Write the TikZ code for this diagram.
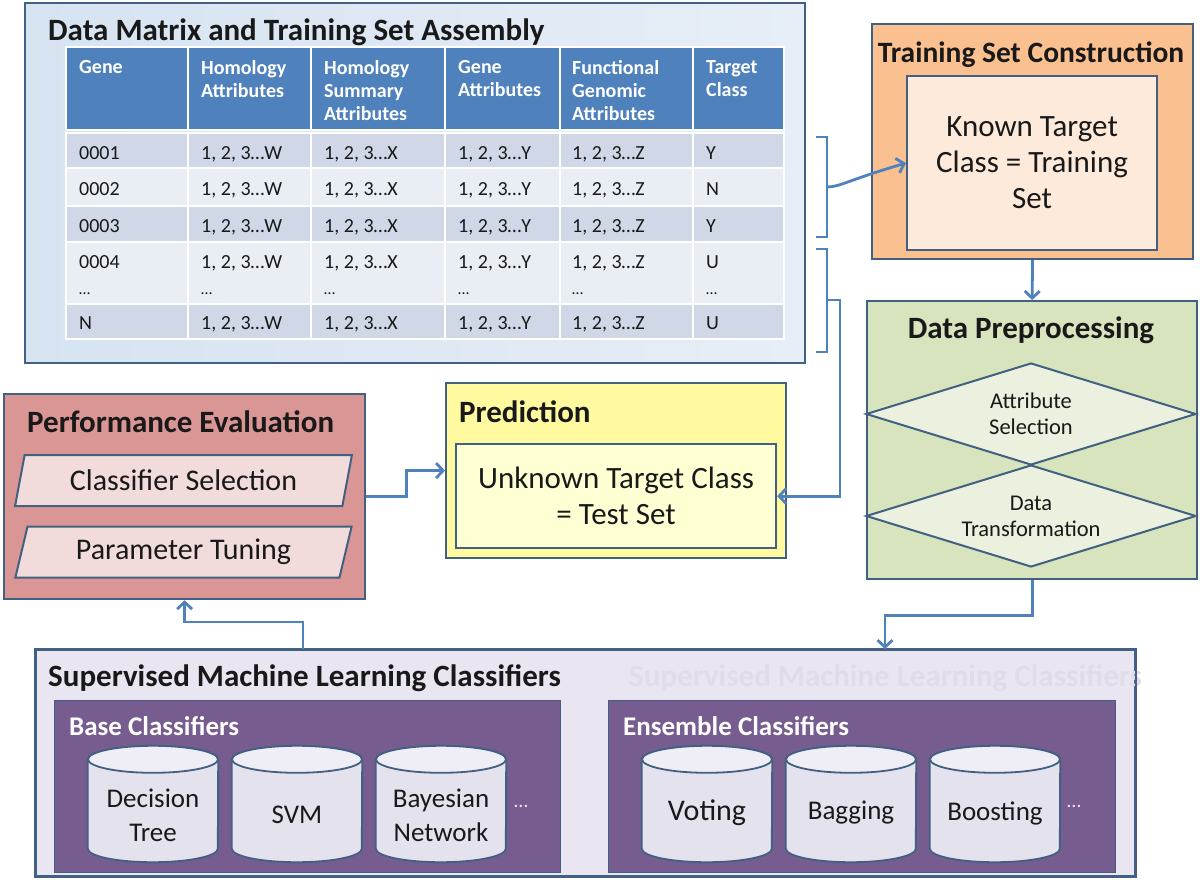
\documentclass[tikz,border=0pt]{standalone}
\usepackage{fontspec}
\setmainfont{Carlito}
\usetikzlibrary{arrows.meta,shapes.geometric}

\definecolor{edgeblue}{RGB}{65,96,130}
\definecolor{flowblue}{RGB}{79,129,189}
\definecolor{headblue}{RGB}{79,129,189}
\definecolor{rowdark}{RGB}{208,216,232}
\definecolor{rowlight}{RGB}{233,237,244}
\definecolor{matrixleft}{RGB}{214,227,241}
\definecolor{matrixright}{RGB}{231,238,247}
\definecolor{orangeout}{RGB}{250,192,144}
\definecolor{orangein}{RGB}{253,234,218}
\definecolor{greenout}{RGB}{215,228,189}
\definecolor{greenin}{RGB}{235,241,222}
\definecolor{yellowout}{RGB}{255,250,160}
\definecolor{yellowin}{RGB}{255,255,212}
\definecolor{redout}{RGB}{218,150,148}
\definecolor{redin}{RGB}{242,220,219}
\definecolor{lavender}{RGB}{234,230,241}
\definecolor{purplebox}{RGB}{118,92,143}
\definecolor{drumfill}{RGB}{228,226,237}
\definecolor{drumtop}{RGB}{239,238,246}
\definecolor{ghost}{RGB}{225,220,234}
\definecolor{ink}{RGB}{25,25,25}

\tikzset{
  panel/.style={draw=edgeblue, line width=2.2pt, anchor=north west, inner sep=0pt},
  boxtitle/.style={font=\fontsize{31}{36}\selectfont\bfseries, text=ink, inner sep=0pt},
  subtitle/.style={anchor=base west, font=\fontsize{27}{32}\selectfont\bfseries, text=white, inner sep=0pt},
  cell/.style={anchor=base west, font=\fontsize{20}{24}\selectfont, text=ink, inner sep=0pt},
  headcell/.style={anchor=north west, align=left, font=\fontsize{20}{23}\selectfont\bfseries, text=white, inner sep=0pt},
  bigtext/.style={align=center, font=\fontsize{31}{36}\selectfont, text=ink},
  flow/.style={draw=flowblue, line width=2.8pt, -{Straight Barb[length=7pt,width=15pt]}},
  brace/.style={draw=flowblue, line width=2.8pt},
  choice/.style={diamond, aspect=3.2, draw=edgeblue, line width=2pt, fill=greenin, minimum width=330pt, minimum height=102pt, inner sep=0pt, align=center, font=\fontsize{22.5}{26}\selectfont, text=ink},
  slanted/.style={trapezium, trapezium left angle=72, trapezium right angle=108, trapezium stretches=true, draw=edgeblue, line width=2pt, fill=redin, minimum width=337pt, minimum height=51pt, inner sep=0pt, font=\fontsize{30}{34}\selectfont, text=ink},
  drum/.style={rectangle, minimum width=130pt, minimum height=116pt, inner sep=0pt},
  drumline/.style={draw=edgeblue, line width=1.8pt, fill=drumfill},
  drumtext/.style={align=center, font=\fontsize{27}{34}\selectfont, text=ink, inner sep=0pt},
  moredots/.style={font=\fontsize{20}{24}\selectfont, text=white!85!purplebox, inner sep=0pt},
}

\begin{document}
\begin{tikzpicture}[x=1pt, y=-1pt]
\useasboundingbox (0,0) rectangle (1200,880);

% Data matrix panel
\node[panel, left color=matrixleft, right color=matrixright, minimum width=780pt, minimum height=360pt] (datamatrix) at (24,2) {};
\node[boxtitle, anchor=base west] (datatitle) at (48,41) {Data Matrix and Training Set Assembly};

% Table cells
\foreach \l/\r in {66/188,188/311,311/445,445/560,560/693,693/784}
  \draw[white, line width=1.5pt, fill=headblue] (\l,47) rectangle (\r,130);
\foreach \t/\b/\c in {133/168/rowdark,168/206/rowlight,206/242/rowdark,242/304/rowlight,304/339/rowdark}
  \foreach \l/\r in {66/188,188/311,311/445,445/560,560/693,693/784}
    \draw[white, line width=1.5pt, fill=\c] (\l,\t) rectangle (\r,\b);

% Table header
\node[headcell] (h-gene) at (79,60) {Gene};
\node[headcell] (h-hom) at (201,60) {Homology\\Attributes};
\node[headcell] (h-sum) at (324,60) {Homology\\Summary\\Attributes};
\node[headcell] (h-attr) at (458,60) {Gene\\Attributes};
\node[headcell] (h-func) at (572,60) {Functional\\Genomic\\Attributes};
\node[headcell] (h-class) at (706,60) {Target\\Class};

% Table rows
\foreach \y/\g/\k in {160/0001/Y,195/0002/N,232/0003/Y,268/0004/U,329/N/U} {
  \node[cell] (g-\g) at (79,\y) {\g};
  \node[cell] (w-\g) at (201,\y) {1, 2, 3…W};
  \node[cell] (x-\g) at (324,\y) {1, 2, 3…X};
  \node[cell] (y-\g) at (458,\y) {1, 2, 3…Y};
  \node[cell] (z-\g) at (572,\y) {1, 2, 3…Z};
  \node[cell] (k-\g) at (706,\y) {\k};
}
\foreach \x in {79,201,324,458,572,706}
  \node[cell, font=\fontsize{16}{20}\selectfont] (dots-\x) at (\x,294) {…};

% Brackets
\coordinate (trainbrace) at (827,187);
\coordinate (testbrace) at (827,300);
\draw[brace] (816,137) -- (827,137) -- (827,237) -- (816,237);
\draw[brace] (816,249) -- (827,249) -- (827,352) -- (816,352);

% Training set construction
\node[panel, fill=orangeout, minimum width=321pt, minimum height=235pt] (trainset) at (871,23) {};
\node[boxtitle, anchor=base, font=\fontsize{29.5}{36}\selectfont\bfseries] (traintitle) at (1031,63) {Training Set Construction};
\node[panel, fill=orangein, minimum width=250pt, minimum height=174pt, bigtext] (known) at (906,75) {Known Target\\Class = Training\\Set};

% Data preprocessing
\node[panel, fill=greenout, minimum width=330pt, minimum height=278pt] (prep) at (866,300) {};
\node[boxtitle, anchor=base] (preptitle) at (1031,338) {Data Preprocessing};
\node[choice] (attrsel) at (1031,414) {Attribute\\Selection};
\node[choice] (transform) at (1031,516) {Data\\Transformation};

% Prediction
\node[panel, fill=yellowout, minimum width=340pt, minimum height=175pt] (predict) at (445,382) {};
\node[boxtitle, anchor=base west] (predtitle) at (459,422) {Prediction};
\node[panel, fill=yellowin, minimum width=320pt, minimum height=104pt, bigtext] (unknown) at (455,443) {Unknown Target Class\\= Test Set};

% Performance evaluation
\node[panel, fill=redout, minimum width=361pt, minimum height=205pt] (perf) at (3,393) {};
\node[boxtitle, anchor=base west] (perftitle) at (27,432) {Performance Evaluation};
\node[slanted] (clsel) at (183.5,480.5) {Classifier Selection};
\node[slanted] (tuning) at (183.5,552) {Parameter Tuning};

% Supervised classifiers
\node[panel, fill=lavender, minimum width=1099pt, minimum height=226pt] (suplearn) at (35,649) {};
\node[boxtitle, anchor=base west, text=ghost] (ghosttitle) at (629,686) {Supervised Machine Learning Classifiers};
\node[boxtitle, anchor=base west] (suptitle) at (48,686) {Supervised Machine Learning Classifiers};

\node[panel, line width=1.2pt, fill=purplebox, minimum width=506pt, minimum height=172pt] (base) at (54,700) {};
\node[subtitle] (basetitle) at (69,735) {Base Classifiers};
\node[panel, line width=1.2pt, fill=purplebox, minimum width=507pt, minimum height=172pt] (ensemble) at (608,700) {};
\node[subtitle] (enstitle) at (623,735) {Ensemble Classifiers};
\draw[edgeblue, line width=2.2pt] (suplearn.north west) rectangle (suplearn.south east);

% Classifier drums
\node[drum] (dtree) at (153,804) {};
\node[drum] (svm) at (297,804) {};
\node[drum] (bayes) at (441,804) {};
\node[drum] (voting) at (707,804) {};
\node[drum] (bagging) at (851,804) {};
\node[drum] (boosting) at (995,804) {};
\foreach \n in {dtree,svm,bayes,voting,bagging,boosting} {
  \draw[drumline] ([yshift=-13.5pt]\n.north west) -- ([yshift=13.5pt]\n.south west)
    arc[start angle=180, end angle=360, x radius=65pt, y radius=13.5pt]
    -- ([yshift=-13.5pt]\n.north east)
    arc[start angle=0, end angle=180, x radius=65pt, y radius=13.5pt] -- cycle;
  \draw[drumline, fill=drumtop] ([yshift=-13.5pt]\n.north) ellipse [x radius=65pt, y radius=13.5pt];
}
\node[drumtext] (dtreetext) at (153,815) {Decision\\Tree};
\node[drumtext] (svmtext) at (297,815) {SVM};
\node[drumtext] (bayestext) at (441,815) {Bayesian\\Network};
\node[moredots] (basemore) at (521,806) {…};
\node[drumtext, font=\fontsize{30}{34}\selectfont] (votingtext) at (707,813) {Voting};
\node[drumtext] (baggingtext) at (851,813) {Bagging};
\node[drumtext] (boostingtext) at (995,813) {Boosting};
\node[moredots] (ensmore) at (1074,806) {…};

% Connectors
\coordinate (supin) at (885,649);
\coordinate (supout) at (303,649);
\draw[flow] (trainbrace) .. controls (840,187) and (848,180) .. (known.west);
\draw[flow] (testbrace) -- ++(13,0) |- (unknown.east);
\draw[flow] (trainset.south) -- (prep.north);
\draw[flow] (prep.south) -- ++(0,35) -| (supin);
\draw[flow] (supout) -- ++(0,-27) -| (perf.south);
\draw[flow] (perf.east) -- ++(40,0) |- (predict.west);

\end{tikzpicture}
\end{document}
